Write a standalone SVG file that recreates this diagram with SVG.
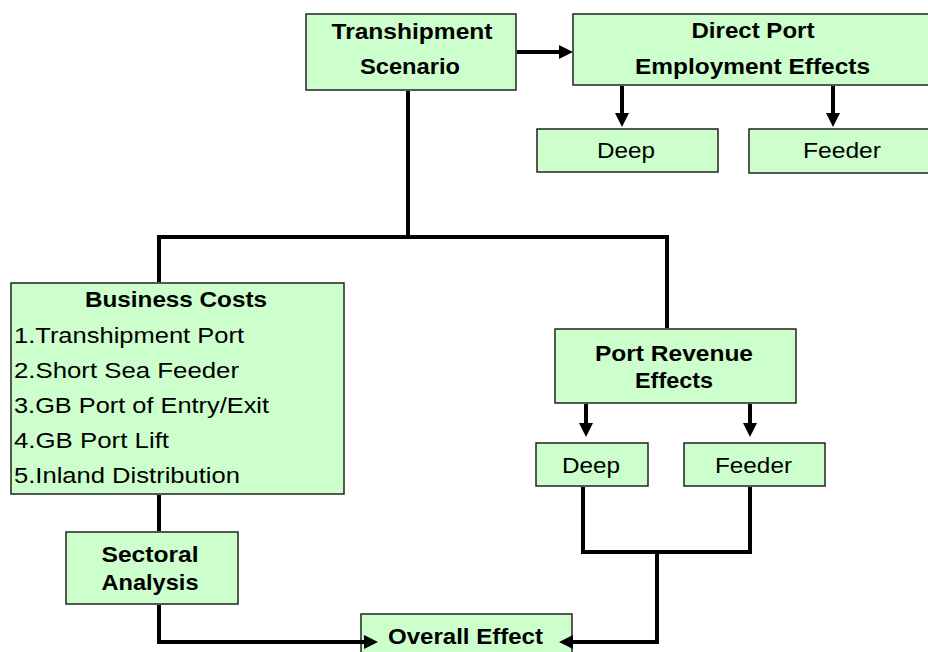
<svg xmlns="http://www.w3.org/2000/svg" width="928" height="652" viewBox="0 0 928 652">
<style>
.box{fill:#CCFFCC;stroke:#222;stroke-width:1.5}
.t{font-family:"Liberation Sans",Arial,sans-serif;font-size:22px;fill:#000;text-anchor:middle}
.b{font-weight:bold}
.l{text-anchor:start}
.c{fill:none;stroke:#000;stroke-width:4}
</style>
<defs>
<marker id="ah" viewBox="0 0 14 14" refX="1" refY="7" markerWidth="14" markerHeight="14" markerUnits="userSpaceOnUse" orient="auto">
<path d="M0,0 L14,7 L0,14 z" fill="#000"/>
</marker>
</defs>
<rect width="928" height="652" fill="#fff"/>
<g id="transhipment">
<rect class="box" x="306" y="14" width="210" height="76"/>
<text class="t b" x="412" y="39" textLength="161" lengthAdjust="spacingAndGlyphs">Transhipment</text>
<text class="t b" x="410" y="74" textLength="100" lengthAdjust="spacingAndGlyphs">Scenario</text>
</g>
<g id="direct">
<rect class="box" x="573" y="14" width="361" height="71"/>
<text class="t b" x="753" y="38" textLength="123" lengthAdjust="spacingAndGlyphs">Direct Port</text>
<text class="t b" x="752.5" y="74" textLength="235" lengthAdjust="spacingAndGlyphs">Employment Effects</text>
</g>
<g id="deep1">
<rect class="box" x="537" y="129" width="181" height="43"/>
<text class="t" x="626" y="158" textLength="58" lengthAdjust="spacingAndGlyphs">Deep</text>
</g>
<g id="feeder1">
<rect class="box" x="749" y="129" width="186" height="44"/>
<text class="t" x="842" y="158" textLength="78" lengthAdjust="spacingAndGlyphs">Feeder</text>
</g>
<g id="business">
<rect class="box" x="11" y="283" width="333" height="211"/>
<text class="t b" x="176" y="307" textLength="182" lengthAdjust="spacingAndGlyphs">Business Costs</text>
<text class="t l" x="14" y="343" textLength="230" lengthAdjust="spacingAndGlyphs">1.Transhipment Port</text>
<text class="t l" x="14" y="378" textLength="225" lengthAdjust="spacingAndGlyphs">2.Short Sea Feeder</text>
<text class="t l" x="14" y="413" textLength="255" lengthAdjust="spacingAndGlyphs">3.GB Port of Entry/Exit</text>
<text class="t l" x="14" y="448" textLength="155" lengthAdjust="spacingAndGlyphs">4.GB Port Lift</text>
<text class="t l" x="14" y="483" textLength="226" lengthAdjust="spacingAndGlyphs">5.Inland Distribution</text>
</g>
<g id="revenue">
<rect class="box" x="555" y="329" width="241" height="74"/>
<text class="t b" x="674" y="361" textLength="158" lengthAdjust="spacingAndGlyphs">Port Revenue</text>
<text class="t b" x="674" y="388" textLength="78" lengthAdjust="spacingAndGlyphs">Effects</text>
</g>
<g id="deep2">
<rect class="box" x="536" y="443" width="112" height="43"/>
<text class="t" x="591" y="473" textLength="58" lengthAdjust="spacingAndGlyphs">Deep</text>
</g>
<g id="feeder2">
<rect class="box" x="684" y="443" width="141" height="43"/>
<text class="t" x="753.5" y="473" textLength="77" lengthAdjust="spacingAndGlyphs">Feeder</text>
</g>
<g id="sectoral">
<rect class="box" x="66" y="532" width="172" height="72"/>
<text class="t b" x="150" y="562" textLength="97" lengthAdjust="spacingAndGlyphs">Sectoral</text>
<text class="t b" x="150" y="590" textLength="97" lengthAdjust="spacingAndGlyphs">Analysis</text>
</g>
<g id="overall">
<rect class="box" x="361" y="614" width="211" height="50"/>
<text class="t b" x="465.5" y="644" textLength="155" lengthAdjust="spacingAndGlyphs">Overall Effect</text>
</g>
<g id="connectors">
<path class="c" d="M517,52 H560" marker-end="url(#ah)"/>
<path class="c" d="M622,86 V114" marker-end="url(#ah)"/>
<path class="c" d="M833,86 V114" marker-end="url(#ah)"/>
<path class="c" d="M408,91 V237"/>
<path class="c" d="M159,282 V237 H667 V328"/>
<path class="c" d="M159,495 V531"/>
<path class="c" d="M586,404 V424" marker-end="url(#ah)"/>
<path class="c" d="M750,404 V424" marker-end="url(#ah)"/>
<path class="c" d="M583,487 V552 H750 V487"/>
<path class="c" d="M657,552 V642 H572" marker-end="url(#ah)"/>
<path class="c" d="M159,605 V642 H365" marker-end="url(#ah)"/>
</g>
</svg>
